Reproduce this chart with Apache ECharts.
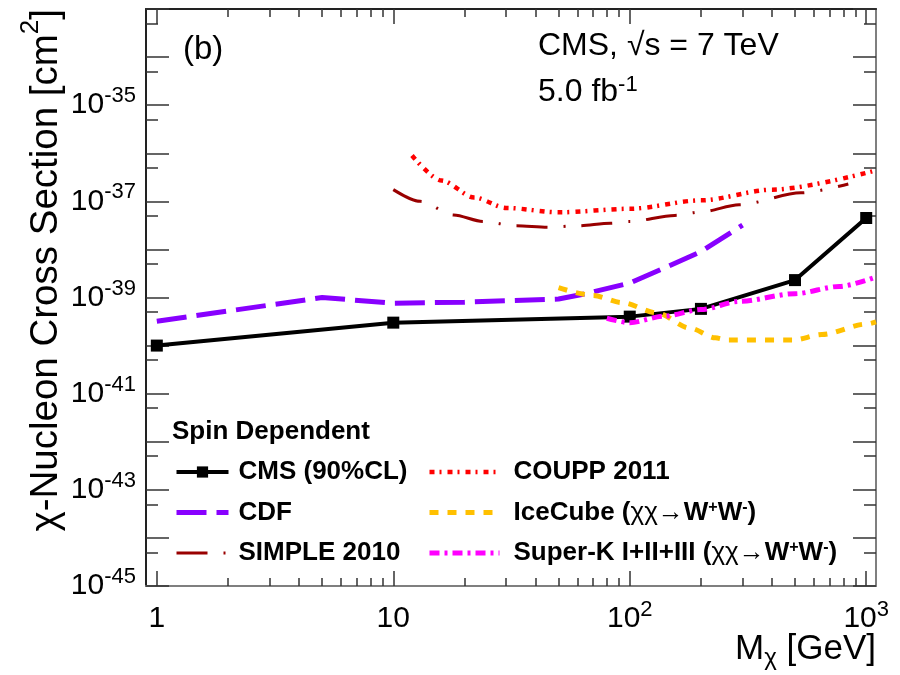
<!DOCTYPE html>
<html>
<head>
<meta charset="utf-8">
<script src="https://cdn.jsdelivr.net/npm/echarts@6/dist/echarts.min.js"></script>
<style>
  html, body { margin: 0; padding: 0; background: #fff; }
  #chart { width: 900px; height: 675px; }
</style>
</head>
<body>
<div id="chart"></div>
<script>
// Dark-matter mass M_chi [GeV] and spin-dependent chi-nucleon cross-section limits [cm^2]
const cmsMass = [1, 10, 100, 200, 500, 1000];
const cmsXsec = [1.0e-40, 3.0e-40, 4.0e-40, 5.8e-40, 2.3e-39, 4.5e-38];

const cdfMass = [1, 5, 10, 20, 50, 65, 100, 135, 200, 300];
const cdfXsec = [3.2e-40, 1.0e-39, 7.6e-40, 8.0e-40, 9.3e-40, 1.2e-39, 2.0e-39, 3.8e-39, 9.0e-39, 3.2e-38];

const simpleMass = [10, 13, 18, 24, 33, 45, 60, 83, 100, 155, 200, 290, 530, 840];
const simpleXsec = [1.75e-37, 1.0e-37, 5.2e-38, 3.8e-38, 3.1e-38, 2.9e-38, 3.1e-38, 3.5e-38, 3.8e-38, 5.1e-38, 6.0e-38, 8.5e-38, 1.5e-37, 2.3e-37];

const couppMass = [12, 16, 22, 30, 50, 100, 200, 400, 1100];
const couppXsec = [9.0e-37, 2.7e-37, 1.2e-37, 7.3e-38, 5.9e-38, 7.0e-38, 1.05e-37, 1.75e-37, 4.4e-37];

const icecubeMass = [50, 70, 93, 130, 180, 230, 260, 490, 650, 1000, 1100];
const icecubeXsec = [1.6e-39, 1.1e-39, 7.8e-40, 4.8e-40, 2.3e-40, 1.45e-40, 1.3e-40, 1.3e-40, 1.7e-40, 2.8e-40, 3.1e-40];

const superkMass = [80, 100, 140, 200, 290, 500, 770, 1080];
const superkXsec = [3.7e-40, 3.0e-40, 4.1e-40, 5.6e-40, 8.3e-40, 1.2e-39, 1.7e-39, 2.6e-39];

// Axis ranges (mass in GeV, cross section as decade exponents)
const massRange = [0.9, 1100];
const xsecExpRange = [-45, -33];
// Decades that carry a tick label
const massLabelExps = [0, 1, 2, 3];
const xsecLabelExps = [-45, -43, -41, -39, -37, -35];

const FONT = 'Liberation Sans, Arial, sans-serif';
const lg = Math.log10;

// Both axes are drawn in decade space so that very small cross sections map cleanly
const xMin = lg(massRange[0]);
const xMax = lg(massRange[1]);
const yMin = xsecExpRange[0];
const yMax = xsecExpRange[1];

const xMajor = [];
const xMinor = [];
for (let e = Math.floor(xMin); e <= Math.ceil(xMax); e++) {
  if (e >= xMin && e <= xMax) xMajor.push(e);
  for (let k = 2; k <= 9; k++) {
    const v = e + lg(k);
    if (v > xMin + 1e-6 && v < xMax - 1e-6) xMinor.push(v);
  }
}
const yMajor = [];
const yMinor = [];
for (let e = yMin; e <= yMax; e++) yMajor.push(e);
for (let e = yMin - 1; e < yMax; e++) {
  const v = e + lg(5);
  if (v > yMin && v < yMax) yMinor.push(v);
}

const toPoints = (mass, xsec) => mass.map((m, i) => [lg(m), lg(xsec[i])]);

const powerRich = {
  b: { fontSize: 30, lineHeight: 40, fontFamily: FONT, color: '#000' },
  s: { fontSize: 22, lineHeight: 22, padding: [0, 0, 18, 0], fontFamily: FONT, color: '#000' }
};

function massLabel(v) {
  const e = Math.round(v);
  if (e === 0) return '{b|1}';
  if (e === 1) return '{b|10}';
  return '{b|10}{s|' + e + '}';
}
function xsecLabel(v) {
  return '{b|10}{s|' + Math.round(v) + '}';
}

function massAxis(position, ticks, len, lineColor, labels) {
  return {
    type: 'value', position: position, min: xMin, max: xMax,
    axisLine: { show: !!lineColor, onZero: false, lineStyle: { color: lineColor || '#000', width: 2 } },
    axisTick: { show: true, inside: true, length: len, customValues: ticks, lineStyle: { color: '#333', width: 1.5 } },
    axisLabel: labels ? {
      show: true, customValues: massLabelExps, formatter: massLabel, margin: 13, rich: powerRich
    } : { show: false },
    splitLine: { show: false }
  };
}
function xsecAxis(position, ticks, len, lineColor, labels) {
  return {
    type: 'value', position: position, min: yMin, max: yMax,
    axisLine: { show: !!lineColor, onZero: false, lineStyle: { color: lineColor || '#000', width: 2 } },
    axisTick: { show: true, inside: true, length: len, customValues: ticks, lineStyle: { color: '#333', width: 1.5 } },
    axisLabel: labels ? {
      show: true, customValues: xsecLabelExps, formatter: xsecLabel, margin: 10, rich: powerRich
    } : { show: false },
    splitLine: { show: false }
  };
}

const xAxes = [
  massAxis('bottom', xMajor, 15, '#7f7f7f', true),
  massAxis('bottom', xMinor, 8, null, false),
  massAxis('top', xMajor, 15, '#222', false),
  massAxis('top', xMinor, 8, null, false)
];
Object.assign(xAxes[0], {
  name: '{a|M}{c|χ}{a| [GeV]}',
  nameLocation: 'end', nameGap: 0, nameMoveOverlap: false,
  nameTextStyle: {
    align: 'right', verticalAlign: 'top', padding: [43, 0, 0, 0],
    rich: {
      a: { fontSize: 35, lineHeight: 40, fontFamily: FONT, color: '#000' },
      c: { fontSize: 24, lineHeight: 24, padding: [18, 0, 0, 0], fontFamily: FONT, color: '#000' }
    }
  }
});

const yAxes = [
  xsecAxis('left', yMajor, 23, '#222', true),
  xsecAxis('left', yMinor, 12, null, false),
  xsecAxis('right', yMajor, 23, '#7f7f7f', false),
  xsecAxis('right', yMinor, 12, null, false)
];
Object.assign(yAxes[0], {
  name: '{a|χ-Nucleon Cross Section [cm}{s|2}{a|]}',
  nameLocation: 'end', nameRotate: 90, nameGap: 0, nameMoveOverlap: false,
  nameTextStyle: {
    align: 'right', verticalAlign: 'bottom', padding: [0, 0, 80, 0],
    rich: {
      a: { fontSize: 38.5, lineHeight: 40, fontFamily: FONT, color: '#000' },
      s: { fontSize: 26, lineHeight: 26, padding: [0, 0, 30, 0], fontFamily: FONT, color: '#000' }
    }
  }
});

function lineSeries(name, mass, xsec, color, width, dash, smooth) {
  return {
    name: name, type: 'line', xAxisIndex: 0, yAxisIndex: 0,
    data: toPoints(mass, xsec),
    symbol: 'none', smooth: smooth ? 0.3 : false, smoothMonotone: 'x',
    lineStyle: { color: color, width: width, type: dash },
    itemStyle: { color: color },
    z: 3
  };
}

const series = [
  {
    name: 'CMS (90%CL)', type: 'line', xAxisIndex: 0, yAxisIndex: 0,
    data: toPoints(cmsMass, cmsXsec),
    symbol: 'rect', symbolSize: 12, showSymbol: true,
    lineStyle: { color: '#000', width: 4, type: 'solid' },
    itemStyle: { color: '#000' },
    z: 2
  },
  lineSeries('CDF', cdfMass, cdfXsec, '#8800ff', 5, [30, 10], false),
  lineSeries('SIMPLE 2010', simpleMass, simpleXsec, '#990000', 3, [31, 16, 2, 16], true),
  lineSeries('COUPP 2011', couppMass, couppXsec, '#ff0000', 4.5, [5, 5, 2, 6], true),
  lineSeries('IceCube (χχ→W+W-)', icecubeMass, icecubeXsec, '#ffc000', 5, [9, 9], true),
  lineSeries('Super-K I+II+III (χχ→W+W-)', superkMass, superkXsec, '#ff00ff', 5, [10, 5, 3, 5], true)
];

const legendRich = {
  a: { fontSize: 26, fontWeight: 'bold', lineHeight: 30, fontFamily: FONT, color: '#000' },
  g: { fontSize: 26, fontWeight: 'normal', lineHeight: 30, fontFamily: FONT, color: '#000' },
  s: { fontSize: 16, fontWeight: 'bold', lineHeight: 16, padding: [0, 0, 10, 0], fontFamily: FONT, color: '#000' }
};
function legendLabel(name) {
  const m = name.match(/^(.*\()χχ→W\+W-(\).*)$/);
  if (!m) return '{a|' + name + '}';
  return '{a|' + m[1] + '}{g|χχ→}{a|W}{s|+}{a|W}{s|-}{a|' + m[2] + '}';
}
// Legend entries keep each series' stroke width; only CMS shows its marker
function legendEntry(s) {
  const marker = s.symbol !== 'none';
  return {
    name: s.name,
    itemStyle: { opacity: marker ? 1 : 0 },
    lineStyle: { width: s.lineStyle.width }
  };
}
function legendBlock(list, left, itemWidth, gap) {
  return {
    data: list.map(legendEntry), orient: 'vertical', left: left, top: 457, padding: 0,
    itemWidth: itemWidth, itemHeight: 14, itemGap: 10.5, selectedMode: false,
    formatter: legendLabel,
    textStyle: { fontSize: 26, fontWeight: 'bold', lineHeight: 30, color: '#000', fontFamily: FONT, padding: [0, 0, 0, gap], rich: legendRich }
  };
}

const chart = echarts.init(document.getElementById('chart'), null, { renderer: 'canvas' });
chart.setOption({
  animation: false,
  backgroundColor: '#fff',
  textStyle: { fontFamily: FONT },
  grid: { left: 146, right: 24, top: 9, bottom: 89, containLabel: false },
  title: [
    { text: '(b)', left: 183, top: 31, padding: 0,
      textStyle: { fontSize: 33, fontWeight: 'normal', color: '#000', lineHeight: 37, fontFamily: FONT } },
    { text: 'CMS, √s = 7 TeV', left: 538, top: 28, padding: 0,
      textStyle: { fontSize: 32, fontWeight: 'normal', color: '#000', lineHeight: 36, fontFamily: FONT } },
    { text: '{a|5.0 fb}{s|-1}', left: 538, top: 74, padding: 0,
      textStyle: { fontSize: 32, fontWeight: 'normal', color: '#000', lineHeight: 36, fontFamily: FONT,
        rich: {
          a: { fontSize: 32, lineHeight: 36, fontFamily: FONT, color: '#000' },
          s: { fontSize: 22, lineHeight: 22, padding: [0, 0, 14, 0], fontFamily: FONT, color: '#000' }
        } } },
    { text: 'Spin Dependent', left: 172, top: 417, padding: 0,
      textStyle: { fontSize: 26, fontWeight: 'bold', color: '#000', lineHeight: 30, fontFamily: FONT } }
  ],
  legend: [
    legendBlock(series.slice(0, 3), 174, 52, 5),
    legendBlock(series.slice(3), 427, 70, 9)
  ],
  xAxis: xAxes,
  yAxis: yAxes,
  series: series
});
</script>
</body>
</html>
